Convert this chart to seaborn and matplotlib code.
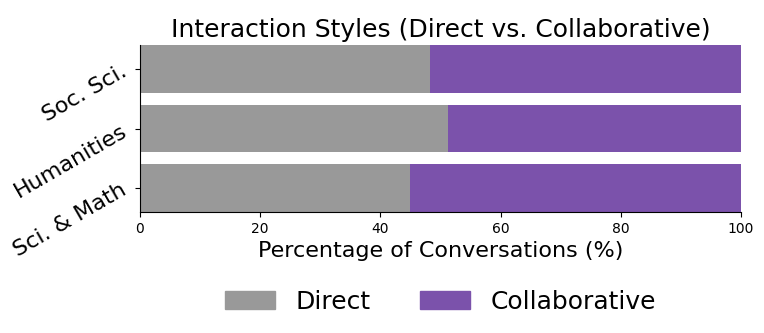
import matplotlib
matplotlib.use("Agg")
import matplotlib.pyplot as plt
import seaborn as sns
import pandas as pd
from matplotlib.patches import Patch

# data
fields = ["Soc. Sci.", "Humanities", "Sci. & Math"]
direct = [48.3, 51.2, 44.9]
collaborative = [51.7, 48.8, 55.1]

gray = "#999999"
purple = "#7B52AB"

df = pd.DataFrame({"field": fields, "direct": direct, "collaborative": collaborative})
df["total"] = df["direct"] + df["collaborative"]

fig, ax = plt.subplots(figsize=(7.64, 3.33), dpi=100)
fig.subplots_adjust(left=0.183, right=0.970, top=0.865, bottom=0.363)

# stacked: full bar in collaborative colour, direct share drawn over it
sns.barplot(data=df, x="total", y="field", orient="h", color=purple,
            saturation=1, width=0.8, ax=ax)
sns.barplot(data=df, x="direct", y="field", orient="h", color=gray,
            saturation=1, width=0.8, ax=ax)

ax.set_xlim(0, 100)
ax.set_ylim(2.4, -0.4)
sns.despine(ax=ax)
ax.set_title("Interaction Styles (Direct vs. Collaborative)", fontsize=18)
ax.set_xlabel("Percentage of Conversations (%)", fontsize=16)
ax.set_ylabel("")
plt.yticks(rotation=30, fontsize=16)

handles = [Patch(color=gray, label="Direct"), Patch(color=purple, label="Collaborative")]
ax.legend(handles=handles, loc="upper center", bbox_to_anchor=(0.5, -0.33),
          ncol=2, frameon=False, fontsize=18, columnspacing=2)

fig.savefig("out.png", dpi=100)
